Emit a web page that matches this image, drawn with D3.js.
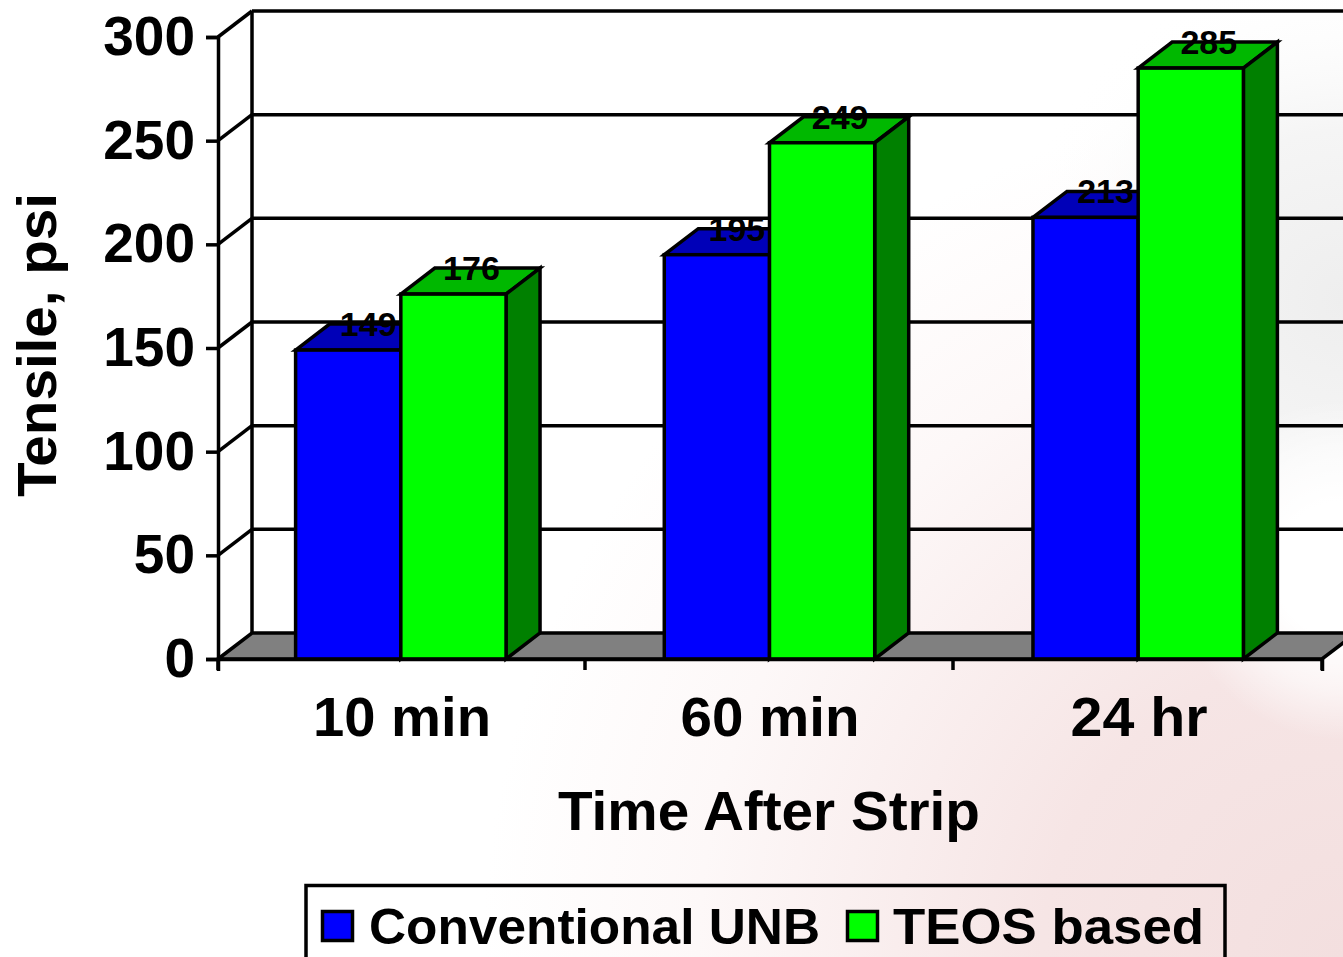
<!DOCTYPE html>
<html><head><meta charset="utf-8">
<script src="https://cdnjs.cloudflare.com/ajax/libs/d3/7.8.5/d3.min.js"></script>
<style>html,body{margin:0;padding:0;background:#fff;overflow:hidden}svg{display:block}
text{font-family:"Liberation Sans",Arial,sans-serif;font-weight:bold;fill:#000}</style>
</head><body><svg id="c" width="1343" height="957"></svg>
<script>
const categories = ["10 min", "60 min", "24 hr"];
const seriesNames = ["Conventional UNB", "TEOS based"];
const conventional = [149, 195, 213];
const teos = [176, 249, 285];
const yTicks = [0, 50, 100, 150, 200, 250, 300];
const xTitle = "Time After Strip", yTitle = "Tensile, psi";

const svg = d3.select("#c");
const defs = svg.append("defs");
const pink = defs.append("radialGradient").attr("id","pink").attr("gradientUnits","userSpaceOnUse")
  .attr("cx",1343).attr("cy",957).attr("r",860);
pink.append("stop").attr("offset",0).attr("stop-color","#f3dfdf");
pink.append("stop").attr("offset",.35).attr("stop-color","#f6e5e5");
pink.append("stop").attr("offset",.75).attr("stop-color","#fdf8f8");
pink.append("stop").attr("offset",1).attr("stop-color","#fff");
const grey = defs.append("radialGradient").attr("id","grey").attr("gradientUnits","userSpaceOnUse")
  .attr("cx",1343).attr("cy",300).attr("r",340);
grey.append("stop").attr("offset",0).attr("stop-color","#eeeeee");
grey.append("stop").attr("offset",.5).attr("stop-color","#f5f5f5");
grey.append("stop").attr("offset",1).attr("stop-color","#fff").attr("stop-opacity",0);
const glow = defs.append("radialGradient").attr("id","glow").attr("gradientUnits","userSpaceOnUse")
  .attr("cx",1343).attr("cy",570).attr("r",170);
glow.append("stop").attr("offset",0).attr("stop-color","#fff");
glow.append("stop").attr("offset",.4).attr("stop-color","#fff");
glow.append("stop").attr("offset",.7).attr("stop-color","#fff").attr("stop-opacity",.6);
glow.append("stop").attr("offset",1).attr("stop-color","#fff").attr("stop-opacity",0);
svg.append("rect").attr("width",1343).attr("height",957).attr("fill","#fff");
svg.append("rect").attr("width",1343).attr("height",957).attr("fill","url(#pink)");
svg.append("rect").attr("width",1343).attr("height",957).attr("fill","url(#grey)");
svg.append("rect").attr("width",1343).attr("height",957).attr("fill","url(#glow)");

const y = d3.scaleLinear().domain([0,300]).range([659,37]);
const x0 = d3.scaleBand().domain(categories).range([218,1322]).paddingInner(0.4265).paddingOuter(0.2105);
const xBand = d3.scaleBand().domain(categories).range([218,1322]);
const x1 = d3.scaleBand().domain(seriesNames).range([0,x0.bandwidth()-1]);
const DX = 34, DY = -26, SW = 3.5;

const g = svg.append("g").attr("fill","none").attr("stroke","#000").attr("stroke-width",SW);
g.selectAll("line.grid").data(yTicks.slice(1)).join("line").attr("class","grid")
  .attr("x1",218+DX).attr("x2",1322+DX).attr("y1",d=>y(d)+DY).attr("y2",d=>y(d)+DY);
g.append("line").attr("x1",218+DX).attr("x2",218+DX).attr("y1",y(0)+DY).attr("y2",y(300)+DY);
g.selectAll("line.diag").data(yTicks.slice(1)).join("line").attr("class","diag")
  .attr("x1",218).attr("x2",218+DX).attr("y1",d=>y(d)).attr("y2",d=>y(d)+DY);
svg.append("path").attr("d",`M218,${y(0)}L${218+DX},${y(0)+DY}L${1322+DX},${y(0)+DY}L1322,${y(0)}Z`)
  .attr("fill","#808080").attr("stroke","#000").attr("stroke-width",SW);

const rows = categories.flatMap((c,i)=>[
  {c,s:seriesNames[0],v:conventional[i],front:"#0000ff",top:"#0000b8",side:"#000080"},
  {c,s:seriesNames[1],v:teos[i],front:"#00ff00",top:"#00b800",side:"#008000"}]);
const bars = svg.append("g").selectAll("g").data(rows).join("g")
  .attr("stroke","#000").attr("stroke-width",SW);
const L = d=>x0(d.c)+x1(d.s), R = d=>L(d)+x1.bandwidth();
bars.append("path").attr("fill",d=>d.top)
  .attr("d",d=>`M${L(d)},${y(d.v)}L${L(d)+DX},${y(d.v)+DY}L${R(d)+DX},${y(d.v)+DY}L${R(d)},${y(d.v)}Z`);
bars.append("path").attr("fill",d=>d.side)
  .attr("d",d=>`M${R(d)},${y(d.v)}L${R(d)+DX},${y(d.v)+DY}L${R(d)+DX},${y(0)+DY}L${R(d)},${y(0)}Z`);
bars.append("rect").attr("fill",d=>d.front)
  .attr("x",L).attr("y",d=>y(d.v)).attr("width",x1.bandwidth()).attr("height",d=>y(0)-y(d.v));
svg.append("g").selectAll("text").data(rows).join("text")
  .attr("x",d=>L(d)+x1.bandwidth()/2+DX/2+(d.s===seriesNames[0]?3:1))
  .attr("y",d=>y(d.v)+DY+12)
  .attr("text-anchor","middle").attr("font-size",34)
  .text(d=>d.v);

const yAxis = d3.axisLeft(y).tickValues(yTicks).tickSize(12).tickPadding(11);
const ya = svg.append("g").attr("transform","translate(218,0)").call(yAxis);
ya.selectAll("path,line").attr("stroke","#000").attr("stroke-width",SW);
ya.selectAll("text").attr("font-size",55).attr("font-family",'"Liberation Sans"').attr("dy","0.32em").attr("fill","#000");
const xAxis = d3.axisBottom(xBand).tickValues([]).tickSize(0).tickSizeOuter(12);
const xa = svg.append("g").attr("transform",`translate(0,${y(0)})`).call(xAxis);
xa.selectAll("path").attr("stroke","#000").attr("stroke-width",SW).attr("fill","none");
const bounds = [218,585,953,1322];
xa.selectAll("line.sep").data(bounds).join("line").attr("class","sep")
  .attr("x1",d=>d).attr("x2",d=>d).attr("y1",0).attr("y2",11).attr("stroke","#000").attr("stroke-width",SW);
const catWidth = [178,179,137];
svg.append("g").selectAll("text").data(categories).join("text")
  .attr("x",d=>xBand(d)+xBand.bandwidth()/2+(d==="24 hr"?1:0)).attr("y",736).attr("text-anchor","middle")
  .attr("font-size",55).attr("textLength",(d,i)=>catWidth[i]).attr("lengthAdjust","spacingAndGlyphs").text(d=>d);

svg.append("text").attr("x",769).attr("y",830).attr("text-anchor","middle").attr("font-size",55)
  .attr("textLength",422).attr("lengthAdjust","spacingAndGlyphs").text(xTitle);
svg.append("text").attr("transform","translate(56,345) rotate(-90)").attr("text-anchor","middle").attr("font-size",55)
  .attr("textLength",304).attr("lengthAdjust","spacingAndGlyphs").text(yTitle);

svg.append("rect").attr("x",306).attr("y",885.5).attr("width",919).attr("height",90)
  .attr("fill","none").attr("stroke","#000").attr("stroke-width",SW);
const legendX = [322.5,847.5], legendT = [369,893], legendW = [451,311];
seriesNames.forEach((s,i)=>{
  svg.append("rect").attr("x",legendX[i]).attr("y",911.5).attr("width",30).attr("height",29)
    .attr("fill",i?"#00ff00":"#0000ff").attr("stroke","#000").attr("stroke-width",SW);
  svg.append("text").attr("x",legendT[i]).attr("y",944).attr("font-size",50)
    .attr("textLength",legendW[i]).attr("lengthAdjust","spacingAndGlyphs").text(s);
});
</script></body></html>
